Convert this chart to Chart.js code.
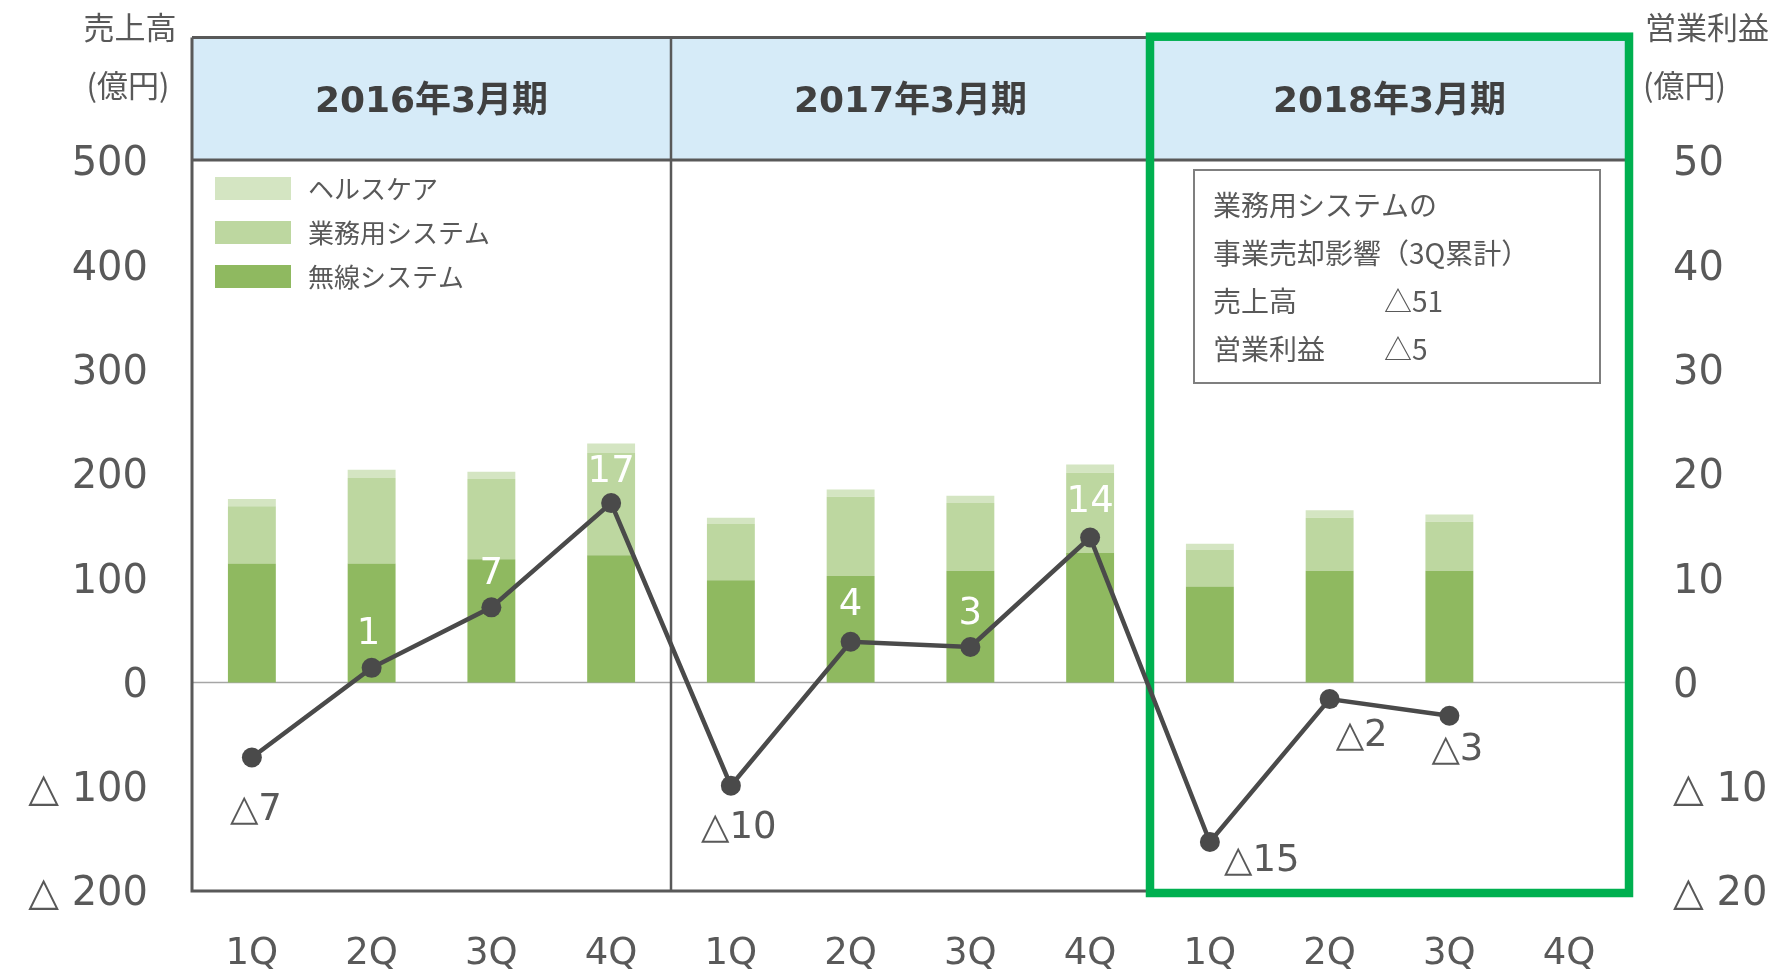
<!DOCTYPE html>
<html lang="ja">
<head>
<meta charset="utf-8">
<script src="https://cdn.jsdelivr.net/npm/chart.js@4.4.0/dist/chart.umd.min.js"></script>
<style>
  html, body { margin: 0; padding: 0; background: #fff; }
  #wrap { width: 1786px; height: 971px; }
</style>
</head>
<body>
<div id="wrap"><canvas id="myChart" width="1786" height="971"></canvas></div>
<script>
// 四半期ごとの売上高（億円）と営業利益（億円）
var quarters = ["1Q", "2Q", "3Q", "4Q", "1Q", "2Q", "3Q", "4Q", "1Q", "2Q", "3Q", "4Q"];
var periods = ["2016年3月期", "2017年3月期", "2018年3月期"];
var wireless = [114, 114, 118, 122, 98, 102, 107, 124, 92, 107, 107, null];
var business = [55, 82, 77, 98, 54, 76, 65, 77, 35, 51, 47, null];
var healthcare = [7, 8, 7, 9, 6, 7, 7, 8, 6, 7, 7, null];
var profit = [-7.2, 1.4, 7.2, 17.2, -9.9, 3.9, 3.4, 13.9, -15.3, -1.6, -3.2, null];
var noteLines = ["業務用システムの", "事業売却影響（3Q累計）"];
var noteRows = [["売上高", "△51"], ["営業利益", "△5"]];

var GRAY = "#595959";
var NUM_FONT = "'DejaVu Sans', 'Noto Sans CJK JP', sans-serif";
var JP_FONT = "'Noto Sans CJK JP', sans-serif";

// label offsets from each point (px)
var labelShift = [[4, 53], [-3, -33], [0, -33], [0, -31], [8, 43], [0, -36], [0, -33], [0, -35], [52, 19], [32, 37], [8, 35], null];

function tri(v) {
  return v < 0 ? "△ " + Math.abs(v) : "" + v;
}

var decor = {
  id: "decor",
  beforeDatasetsDraw: function (chart) {
    var ctx = chart.ctx, a = chart.chartArea, xs = chart.scales.x;
    var headTop = 37.5, headBottom = 160;
    var n = quarters.length;
    function edge(i) {
      if (i <= 0) return a.left;
      if (i >= n) return a.right;
      return (xs.getPixelForTick(i - 1) + xs.getPixelForTick(i)) / 2;
    }
    ctx.save();
    // header band
    ctx.fillStyle = "#D6EBF8";
    ctx.fillRect(a.left, headTop, a.right - a.left, headBottom - headTop);
    ctx.fillStyle = "#404040";
    ctx.font = "bold 36px " + NUM_FONT;
    ctx.textAlign = "center";
    ctx.textBaseline = "middle";
    periods.forEach(function (p, k) {
      ctx.fillText(p, (edge(k * 4) + edge(k * 4 + 4)) / 2, 103);
    });
    // zero line
    var y0 = chart.scales.y.getPixelForValue(0);
    ctx.strokeStyle = "#A6A6A6";
    ctx.lineWidth = 1.5;
    ctx.beginPath();
    ctx.moveTo(a.left, y0);
    ctx.lineTo(a.right, y0);
    ctx.stroke();
    // frame
    ctx.strokeStyle = GRAY;
    ctx.lineWidth = 3;
    ctx.beginPath();
    ctx.moveTo(a.left, headTop);
    ctx.lineTo(a.right, headTop);
    ctx.moveTo(a.left, headBottom);
    ctx.lineTo(a.right, headBottom);
    ctx.moveTo(a.left, headTop);
    ctx.lineTo(a.left, a.bottom);
    ctx.lineTo(a.right, a.bottom);
    ctx.lineTo(a.right, headTop);
    ctx.stroke();
    ctx.lineWidth = 2.5;
    ctx.beginPath();
    [4, 8].forEach(function (i) {
      ctx.moveTo(edge(i), headTop);
      ctx.lineTo(edge(i), a.bottom);
    });
    ctx.stroke();
    // highlight box
    var gx = edge(8);
    ctx.strokeStyle = "#00B050";
    ctx.lineWidth = 8.5;
    ctx.strokeRect(gx, 36.7, a.right - gx, a.bottom + 2 - 36.7);

    // legend
    var legend = [["ヘルスケア", "#D4E5C2"], ["業務用システム", "#BDD7A0"], ["無線システム", "#8FB960"]];
    ctx.font = "26px " + JP_FONT;
    ctx.textAlign = "left";
    legend.forEach(function (l, k) {
      var cy = 188.5 + k * 44;
      ctx.fillStyle = l[1];
      ctx.fillRect(a.left + 23, cy - 11.5, 76, 23);
      ctx.fillStyle = GRAY;
      ctx.fillText(l[0], a.left + 116, cy + 1);
    });

    // note box
    ctx.strokeStyle = "#7F7F7F";
    ctx.lineWidth = 2;
    ctx.strokeRect(1194, 170, 406, 213);
    ctx.fillStyle = GRAY;
    ctx.font = "28px " + JP_FONT;
    noteLines.forEach(function (t, k) {
      ctx.fillText(t, 1213, 205 + k * 48);
    });
    noteRows.forEach(function (r, k) {
      ctx.fillText(r[0], 1213, 301 + k * 48);
      ctx.fillText(r[1], 1384, 301 + k * 48);
    });

    // axis titles
    ctx.font = "31px " + JP_FONT;
    ctx.textAlign = "center";
    ctx.fillText("売上高", 130, 27);
    ctx.fillText("(億円)", 128, 85);
    ctx.textAlign = "left";
    ctx.fillText("営業利益", 1645, 27);
    ctx.fillText("(億円)", 1643, 85);
    ctx.restore();
  },
  afterDatasetsDraw: function (chart) {
    var ctx = chart.ctx;
    var meta = chart.getDatasetMeta(3);
    ctx.save();
    ctx.font = "37px " + NUM_FONT;
    ctx.textAlign = "center";
    ctx.textBaseline = "middle";
    profit.forEach(function (v, i) {
      if (v === null) return;
      var pt = meta.data[i];
      var s = labelShift[i];
      var txt = v < 0 ? "△" + Math.round(-v) : "" + Math.round(v);
      ctx.fillStyle = v < 0 ? GRAY : "#FFFFFF";
      ctx.fillText(txt, pt.x + s[0], pt.y + s[1]);
    });
    ctx.restore();
  }
};

var ctx = document.getElementById("myChart");
new Chart(ctx, {
  type: "bar",
  data: {
    labels: quarters,
    datasets: [
      { label: "無線システム", data: wireless, backgroundColor: "#8FB960", stack: "s", yAxisID: "y", order: 2 },
      { label: "業務用システム", data: business, backgroundColor: "#BDD7A0", stack: "s", yAxisID: "y", order: 2 },
      { label: "ヘルスケア", data: healthcare, backgroundColor: "#D4E5C2", stack: "s", yAxisID: "y", order: 2 },
      {
        type: "line",
        label: "営業利益",
        data: profit,
        yAxisID: "y1",
        borderColor: "#4A4A4A",
        backgroundColor: "#4A4A4A",
        borderWidth: 4.5,
        pointRadius: 10,
        pointBackgroundColor: "#4A4A4A",
        pointBorderWidth: 0,
        tension: 0,
        order: 1,
      },
    ],
  },
  options: {
    responsive: false,
    animation: false,
    devicePixelRatio: 1,
    layout: { padding: { top: 161, left: 0, right: 0, bottom: 0 } },
    plugins: { legend: { display: false }, tooltip: { enabled: false } },
    datasets: { bar: { barPercentage: 0.4, categoryPercentage: 1 } },
    scales: {
      x: {
        stacked: true,
        grid: { display: false },
        border: { display: false },
        ticks: { color: GRAY, font: { family: NUM_FONT, size: 37 }, padding: 33, maxRotation: 0 },
        afterFit: function (s) { s.height = 80; },
      },
      y: {
        stacked: true,
        min: -200,
        max: 500,
        grid: { display: false, drawTicks: false },
        border: { display: false },
        ticks: { stepSize: 100, color: GRAY, font: { family: NUM_FONT, size: 40 }, padding: 44, labelOffset: 4, callback: tri },
        afterFit: function (s) { s.width = 192; },
      },
      y1: {
        position: "right",
        min: -20,
        max: 50,
        grid: { display: false, drawTicks: false },
        border: { display: false },
        ticks: { stepSize: 10, color: GRAY, font: { family: NUM_FONT, size: 40 }, padding: 44, labelOffset: 4, callback: tri },
        afterFit: function (s) { s.width = 157; },
      },
    },
  },
  plugins: [decor],
});
</script>
</body>
</html>
